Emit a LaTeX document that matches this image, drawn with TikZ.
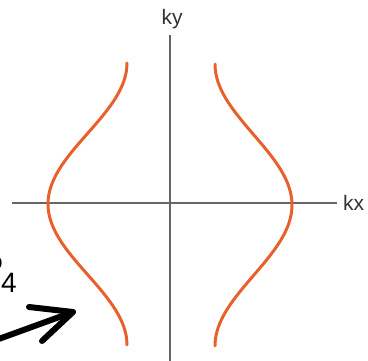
\documentclass[tikz,border=0pt]{standalone}
\usepackage{fontspec}
\setmainfont{Liberation Sans}
\definecolor{fermi}{HTML}{E8602C}
\definecolor{axisgray}{HTML}{666666}
\definecolor{labelgray}{HTML}{333333}
\begin{document}
\begin{tikzpicture}[x=1pt,y=-1pt,
  axisline/.style={draw=axisgray,line width=1.3pt},
  fermiline/.style={draw=fermi,line width=3pt,line cap=round},
  axislabel/.style={text=labelgray,inner sep=0pt,font=\fontsize{21}{21}\selectfont},
  bigarrow/.style={draw=black,line width=6pt,line cap=round,line join=round}]
\useasboundingbox (0,0) rectangle (368,360);
% axes
\coordinate (ytop) at (170,35);
\coordinate (ybot) at (170,362);
\coordinate (xleft) at (12,203);
\coordinate (xright) at (337,203);
\draw[axisline] (ybot) -- (ytop);
\draw[axisline] (xleft) -- (xright);
\node[axislabel,anchor=base] (ky) at (172,24) {ky};
\node[axislabel,anchor=base west] (kx) at (343,210) {kx};
% Fermi surface curves
\draw[fermiline] plot[domain=-1:1,samples=80,smooth] ({48+79*(1-cos(180*\x))/2},{204+141*\x});
\draw[fermiline] plot[domain=-1:1,samples=80,smooth] ({292-77*(1-cos(180*\x))/2},{205+141*\x});
% label P4 (mostly cut off)
\node[inner sep=0pt,anchor=base east] (plabel) at (17,282)
  {\fontsize{40}{40}\selectfont P\kern-3pt\raisebox{-10pt}{\fontsize{28}{28}\selectfont 4}};
% arrow
\coordinate (atail) at (-4,340);
\coordinate (atip) at (73,312);
\coordinate (abarb1) at (29,307);
\coordinate (abarb2) at (42,341);
\draw[bigarrow] (atail) -- (atip);
\draw[bigarrow] (abarb1) -- (atip) -- (abarb2);
\end{tikzpicture}
\end{document}
